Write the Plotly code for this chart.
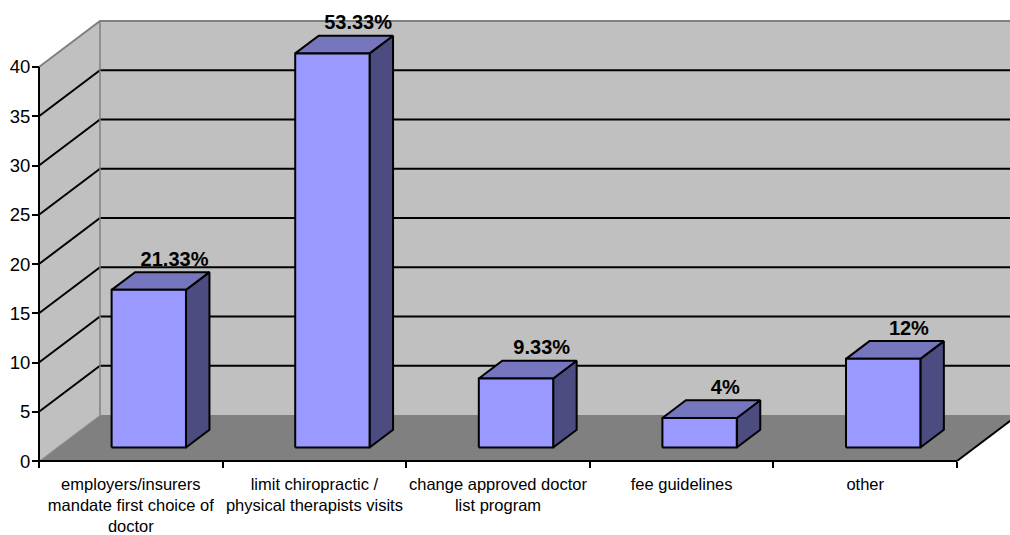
import plotly.graph_objects as go

# ---------------- data ----------------
categories = [
    "employers/insurers<br>mandate first choice of<br>doctor",
    "limit chiropractic /<br>physical therapists visits",
    "change approved doctor<br>list program",
    "fee guidelines",
    "other",
]
counts = [16, 40, 7, 3, 9]
pct_labels = ["21.33%", "53.33%", "9.33%", "4%", "12%"]
y_ticks = [0, 5, 10, 15, 20, 25, 30, 35, 40]

# ---------------- geometry / style ----------------
n = len(categories)
y_top = max(y_ticks)
DX, DY = 0.3322, 4.67          # full depth of the 3-D floor (x in categories, y in value units)
F0, F1 = 0.295, 0.68           # bar depth span (fraction of floor depth)
BAR_W = 0.405                  # bar width (fraction of category)
LABEL_DX, LABEL_DY = 0.14, 4.35

WALL = "#C0C0C0"
FLOOR = "#808080"
BORDER = "#808080"
FRONT = "#9999FF"
TOP = "#7676BE"
SIDE = "#4C4C80"
FONT = "Liberation Sans, Arial, sans-serif"

X_MIN, X_MAX = -4 / 183.6, 971 / 183.6
Y_MIN, Y_MAX = -0.5, 46.8

fig = go.Figure()


def poly(xs, ys, fill, line_color=None, line_width=0):
    fig.add_trace(go.Scatter(
        x=xs, y=ys, mode="lines", fill="toself", fillcolor=fill,
        line=dict(color=line_color or fill, width=line_width),
        hoverinfo="skip", showlegend=False))


def line(xs, ys, color, width):
    fig.add_trace(go.Scatter(
        x=xs, y=ys, mode="lines", line=dict(color=color, width=width),
        hoverinfo="skip", showlegend=False))


# back wall
poly([DX, DX, n + DX + 1, n + DX + 1], [DY, y_top + DY, y_top + DY, DY], WALL)
# left wall
poly([0, 0, DX, DX], [0, y_top, y_top + DY, DY], WALL)
# floor
poly([0, n, n + DX, DX], [0, 0, DY, DY], FLOOR)

# gridlines (diagonal on left wall, horizontal on back wall)
gx, gy = [], []
for v in y_ticks:
    if v == 0 or v == y_top:
        continue
    gx += [0, DX, n + DX + 1, None]
    gy += [v, v + DY, v + DY, None]
line(gx, gy, "black", 2)

# wall borders
line([0, DX, n + DX + 1], [y_top, y_top + DY, y_top + DY], BORDER, 2)
line([DX, DX], [DY, y_top + DY], BORDER, 1.5)
line([0, DX], [0, DY], "#A0A0A0", 1)
# floor right edge
line([n, n + DX], [0, DY], "black", 2)
# axes lines
line([0, 0], [0, y_top], "black", 2)
line([0, n], [0, 0], "black", 2)

# bars
ox0, oy0 = F0 * DX, F0 * DY
ddx, ddy = (F1 - F0) * DX, (F1 - F0) * DY
fx, fy, tx, ty, sx, sy = [], [], [], [], [], []
lx, ly = [], []
for i, v in enumerate(counts):
    x0 = i + 0.5 - BAR_W / 2 + ox0
    x1 = x0 + BAR_W
    b = oy0
    t = oy0 + v
    fx += [x0, x1, x1, x0, x0, None]
    fy += [b, b, t, t, b, None]
    tx += [x0, x1, x1 + ddx, x0 + ddx, x0, None]
    ty += [t, t, t + ddy, t + ddy, t, None]
    sx += [x1, x1 + ddx, x1 + ddx, x1, x1, None]
    sy += [b, b + ddy, t + ddy, t, b, None]
    lx.append(i + 0.5 + ox0 + LABEL_DX)
    ly.append(v + LABEL_DY)

poly(sx, sy, SIDE, "black", 2)
poly(tx, ty, TOP, "black", 2)
poly(fx, fy, FRONT, "black", 2)

# data labels
fig.add_trace(go.Scatter(
    x=lx, y=ly, mode="text", text=pct_labels, textposition="middle center",
    textfont=dict(family=FONT, size=20, color="black", weight="bold"),
    cliponaxis=False, hoverinfo="skip", showlegend=False))

# category label axis (overlay)
fig.add_trace(go.Scatter(x=[i + 0.5 for i in range(n)], y=[None] * n,
                         xaxis="x2", showlegend=False, hoverinfo="skip"))

fig.update_layout(
    width=1010, height=535, autosize=False,
    margin=dict(l=35, r=0, t=0, b=69, pad=0),
    paper_bgcolor="white", plot_bgcolor="rgba(0,0,0,0)",
    font=dict(family=FONT, color="black"),
    xaxis=dict(range=[X_MIN, X_MAX], showgrid=False, zeroline=False, showline=False,
               tickvals=list(range(n + 1)), showticklabels=False,
               ticks="outside", ticklen=6, tickwidth=2, tickcolor="black",
               anchor="free", position=(0 - Y_MIN) / (Y_MAX - Y_MIN)),
    xaxis2=dict(range=[X_MIN, X_MAX], matches="x", overlaying="x", showgrid=False,
                zeroline=False, showline=False, ticks="",
                tickvals=[i + 0.5 for i in range(n)], ticktext=categories,
                tickfont=dict(family=FONT, size=16.5, color="black"),
                ticklabelstandoff=11,
                anchor="free", position=(0 - Y_MIN) / (Y_MAX - Y_MIN), side="bottom"),
    yaxis=dict(range=[Y_MIN, Y_MAX], showgrid=False, zeroline=False, showline=False,
               tickvals=y_ticks, ticks="outside", ticklen=7, tickwidth=2,
               tickcolor="black", tickfont=dict(family=FONT, size=18.5, color="black"),
               ticklabelstandoff=-2,
               anchor="free", position=(0 - X_MIN) / (X_MAX - X_MIN)),
)

fig.write_html("out.html")
